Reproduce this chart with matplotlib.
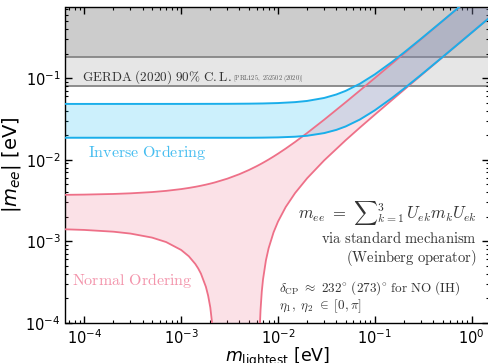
import numpy as np
import matplotlib
matplotlib.use("Agg")
import matplotlib.pyplot as plt

# ---------------- data ----------------
gerda_limits = [0.079, 0.18]          # eV, GERDA 90% C.L. range
y_top_fill = 1.0

# Inverted ordering band
m_io = [6.4e-5, 1e-4, 1e-3, 3e-3, 5e-3, 7e-3, 0.01, 0.015, 0.02, 0.03, 0.04,
        0.05, 0.07, 0.1, 0.15, 0.2, 0.3, 0.5, 0.7, 1.0, 1.5]
io_upper = [0.04829, 0.04829, 0.04832, 0.04844, 0.04865, 0.04893, 0.04949,
            0.05080, 0.05254, 0.05717, 0.06303, 0.06983, 0.08532, 0.11128,
            0.15776, 0.20589, 0.30398, 0.50243, 0.70173, 1.00121, 1.50081]
io_lower = [0.01861, 0.01861, 0.01860, 0.01859, 0.01860, 0.01866, 0.01879,
            0.01915, 0.01969, 0.02122, 0.02323, 0.02561, 0.03110, 0.04039,
            0.05710, 0.07445, 0.10983, 0.18145, 0.25341, 0.36155, 0.54195]

# Normal ordering band (0 = lower edge reaches zero)
m_no = [6.4e-5, 1e-4, 2e-4, 3e-4, 5e-4, 7e-4, 1e-3, 1.2e-3, 1.4e-3, 1.5e-3,
        1.6e-3, 1.8e-3, 1.9e-3, 2e-3, 2.1e-3, 2.15e-3, 2.2e-3, 2.24e-3,
        3e-3, 4e-3, 5e-3, 6e-3, 6.3e-3, 6.4e-3, 6.5e-3, 6.6e-3, 6.8e-3,
        7e-3, 7.5e-3, 8e-3, 9e-3, 0.01, 0.012, 0.015, 0.02, 0.03, 0.05,
        0.07, 0.1, 0.15, 0.2, 0.3, 0.5, 0.7, 1.0, 1.5]
no_upper = [0.003717, 0.003741, 0.003810, 0.003879, 0.004018, 0.004158,
            0.004371, 0.004515, 0.004660, 0.004733, 0.004807, 0.004954,
            0.005029, 0.005103, 0.005178, 0.005216, 0.005254, 0.005284,
            0.005868, 0.006662, 0.007482, 0.008325, 0.008582, 0.008668,
            0.008754, 0.008840, 0.009013, 0.009187, 0.009625, 0.010066,
            0.010959, 0.011864, 0.013703, 0.016512, 0.021284, 0.030994,
            0.050685, 0.070521, 0.100383, 0.150269, 0.200212, 0.300159,
            0.500128, 0.700126, 1.000139, 1.500154]
no_lower = [0.001405, 0.001381, 0.001314, 0.001246, 0.001113, 0.000981,
            0.000785, 0.000657, 0.000529, 0.000466, 0.000403, 0.000278,
            0.000216, 0.000155, 0.0000935, 0.0000631, 0.0000326, 0.0000083,
            0.0, 0.0, 0.0, 0.0, 0.0, 0.0000441, 0.0000942, 0.000144,
            0.000243, 0.000341, 0.000584, 0.000824, 0.001292, 0.001748,
            0.002632, 0.003906, 0.005940, 0.009842, 0.017375, 0.024763,
            0.035737, 0.053911, 0.072028, 0.108201, 0.180472, 0.252714,
            0.361061, 0.541646]

x_limits = [6.4e-5, 1.5]
y_limits = [1e-4, 0.75]

# ---------------- styling ----------------
c_io_line = '#1aaeea'
c_io_fill = '#00b4f0'
c_io_text = '#45bdf0'
c_no_line = '#ee7088'
c_no_fill = '#ee6a88'
c_no_text = '#f394ab'

fig = plt.figure(figsize=(4.89, 3.63), dpi=100)
ax = fig.add_axes([65.5 / 489, 1 - 323 / 363, (488.8 - 65.5) / 489, (323 - 6.7) / 363])
ax.set_xscale('log')
ax.set_yscale('log')
ax.set_xlim(*x_limits)
ax.set_ylim(*y_limits)

# GERDA bands
ax.axhspan(gerda_limits[1], y_top_fill, color='#cccccc', zorder=0, lw=0)
ax.axhspan(gerda_limits[0], gerda_limits[1], color='#e6e6e6', zorder=0, lw=0)
for g in gerda_limits:
    ax.axhline(g, color='#858585', lw=1.3, zorder=1)

# IO band
mi = np.array(m_io)
ax.fill_between(mi, io_lower, io_upper, color=c_io_fill, alpha=0.2, lw=0, zorder=2)
ax.plot(mi, io_upper, color=c_io_line, lw=1.4, zorder=4)
ax.plot(mi, io_lower, color=c_io_line, lw=1.4, zorder=4)

# NO band
mn = np.array(m_no)
nl = np.array(no_lower)
nl_fill = np.where(nl > 0, nl, 1e-7)
ax.fill_between(mn, nl_fill, no_upper, color=c_no_fill, alpha=0.2, lw=0, zorder=2)
ax.plot(mn, no_upper, color=c_no_line, lw=1.3, zorder=3)
ax.plot(mn, np.ma.masked_where(nl <= 0, nl), color=c_no_line, lw=1.3, zorder=3)

# axes styling
ax.tick_params(which='both', direction='in', top=True, right=True)
ax.tick_params(which='major', length=5, width=1, labelsize=10.5, pad=3.5)
ax.tick_params(which='minor', length=2.5, width=0.8)
for s in ax.spines.values():
    s.set_linewidth(1.0)
ax.set_xlabel(r'$m_{\rm lightest}$ [eV]', fontsize=12.5, labelpad=-0.5)
ax.set_ylabel(r'$|m_{ee}|$ [eV]', fontsize=14, labelpad=2)


def ftext(x, y, s, **kw):
    fig.text(x / 489, 1 - y / 363, s, math_fontfamily='cm', **kw)


ftext(82, 81, r'$\mathrm{GERDA\ (2020)\ 90\%\ C.L.}$', fontsize=9.5, color='#333333',
      va='baseline', ha='left')
ftext(233, 80, r'$\mathrm{[PRL125,\ 252502\ (2020)]}$', fontsize=4.6, color='#555555',
      va='baseline', ha='left')
ftext(88, 157, r'$\mathrm{Inverse\ Ordering}$', fontsize=11.5, color=c_io_text,
      va='baseline', ha='left')
ftext(72, 285, r'$\mathrm{Normal\ Ordering}$', fontsize=11.5, color=c_no_text,
      va='baseline', ha='left')
ftext(477, 219, r'$m_{ee}\ =\ {\sum}_{k=1}^{3}\,U_{ek}m_kU_{ek}$', fontsize=12,
      color='#333333', va='baseline', ha='right')
ftext(477, 243, r'$\mathrm{via\ standard\ mechanism}$', fontsize=10.5,
      color='#333333', va='baseline', ha='right')
ftext(477, 262, r'$\mathrm{(Weinberg\ operator)}$', fontsize=10.5,
      color='#333333', va='baseline', ha='right')
ftext(279, 292, r'$\delta_{\rm CP}\ \approx\ 232^{\circ}\ (273)^{\circ}\ \mathrm{for\ NO\ (IH)}$',
      fontsize=9.5, color='#333333', va='baseline', ha='left')
ftext(279, 309, r'$\eta_1,\ \eta_2\ \in\ [0,\pi]$', fontsize=9.5,
      color='#333333', va='baseline', ha='left')

fig.savefig('out.png', dpi=100)
